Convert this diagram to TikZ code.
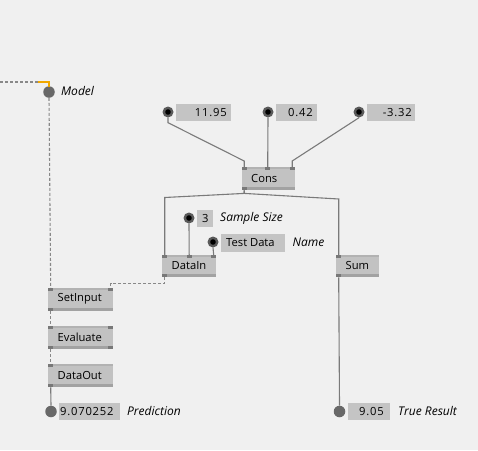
\documentclass[tikz,border=0pt]{standalone}
\usepackage{fontspec}
\setmainfont{Open Sans}
\newfontfamily\numfont[LetterSpace=7]{Open Sans}
\pgfdeclarelayer{back}
\pgfdeclarelayer{wires}
\pgfsetlayers{back,wires,main}

\definecolor{bg}{HTML}{F0F0F0}
\definecolor{boxfill}{HTML}{C2C2C2}
\definecolor{valfill}{HTML}{C4C4C4}
\definecolor{stripgray}{HTML}{A2A2A2}
\definecolor{topgray}{HTML}{B2B2B2}
\definecolor{pingray}{HTML}{787878}
\definecolor{wiregray}{HTML}{7A7A7A}
\definecolor{dashgray}{HTML}{888888}
\definecolor{ringgray}{HTML}{5A5A5A}
\definecolor{outgray}{HTML}{686868}
\definecolor{linkorange}{RGB}{242,168,0}

\tikzset{
  blk/.style={rectangle, fill=boxfill, inner sep=0pt, anchor=north west},
  valbox/.style={rectangle, fill=valfill, inner sep=0pt, anchor=north west},
  lbl/.style={font=\fontsize{11.2}{13}\selectfont, inner sep=0pt, anchor=west},
  tag/.style={font=\itshape\fontsize{12}{14}\selectfont, inner sep=0pt, anchor=west},
  num/.style={font=\numfont\fontsize{11.2}{13}\selectfont, inner sep=0pt},
  pinbar/.style={rectangle, fill=pingray, minimum width=5pt, minimum height=3pt, inner sep=0pt, anchor=north west},
  incirc/.style={circle, fill=ringgray, minimum size=11pt, inner sep=0pt},
  outcirc/.style={circle, fill=outgray, minimum size=11.5pt, inner sep=0pt},
  wire/.style={draw=wiregray, line width=1.1pt},
  dwire/.style={draw=dashgray, line width=1.1pt, dash pattern=on 3pt off 2pt},
  orangebar/.style={draw=linkorange, line width=2.5pt, line join=miter},
}

% operator block: name, x, y (top left), width, height, caption
\newcommand{\opblock}[6]{%
  \node[blk, minimum width=#4pt, minimum height=#5pt] (#1) at (#2,#3) {};
  \fill[topgray] (#1.north west) rectangle ([yshift=-1.5pt]#1.north east);
  \fill[stripgray] ([yshift=3pt]#1.south west) rectangle (#1.south east);
  \node[lbl] (#1-t) at ([xshift=9.5pt,yshift=0.5pt]#1.west) {#6};
}
% connection pin: name, x, y (top left)
\newcommand{\pinnode}[3]{\node[pinbar] (#1) at (#2,#3) {};}
% input dot with black centre
\newcommand{\indot}[3]{%
  \node[incirc] (#1) at (#2,#3) {};
  \fill[black] (#1.center) circle (2.8);
}

\begin{document}
\begin{tikzpicture}[x=1pt, y=-1pt]
\begin{pgfonlayer}{back}
  \fill[bg] (0,0) rectangle (478,450);
\end{pgfonlayer}
\useasboundingbox (0,0) rectangle (478,450);

% ---- constant inputs ----
\indot{c1}{168}{112}
\node[valbox, minimum width=55pt, minimum height=17pt] (v1) at (176,104) {};
\node[num, anchor=east] (v1t) at ([xshift=-4.5pt]v1.east) {11.95};

\indot{c2}{268}{112}
\node[valbox, minimum width=41pt, minimum height=17pt] (v2) at (276,104) {};
\node[num, anchor=east] (v2t) at ([xshift=-4.5pt]v2.east) {0.42};

\indot{c3}{359}{112}
\node[valbox, minimum width=48pt, minimum height=17pt] (v3) at (367,104) {};
\node[num, anchor=east] (v3t) at ([xshift=-3.5pt]v3.east) {-3.32};

% ---- Cons ----
\opblock{cons}{241.5}{167}{53.5}{23}{Cons}
\pinnode{cons-i1}{241.5}{167}
\pinnode{cons-i2}{265}{167}
\pinnode{cons-i3}{289.5}{167}
\pinnode{cons-o}{241.5}{187}

% ---- DataIn and its inputs ----
\indot{cs}{189}{218}
\node[valbox, minimum width=16pt, minimum height=17pt] (v4) at (197,210) {};
\node[num] (v4t) at (v4.center) {3};
\node[tag] (sst) at (220,218) {Sample Size};

\indot{ct}{213}{242}
\node[valbox, minimum width=64pt, minimum height=18.5pt] (v5) at (221,233.3) {};
\node[lbl] (v5t) at ([xshift=5pt]v5.west) {Test Data};
\node[tag] (nmt) at (292.5,242) {Name};

\opblock{datain}{162}{255}{54}{22}{DataIn}
\pinnode{datain-i1}{162}{255}
\pinnode{datain-i2}{186.5}{255}
\pinnode{datain-i3}{211}{255}
\pinnode{datain-o}{162}{274}

% ---- Sum ----
\opblock{sum}{336}{255}{43}{22}{Sum}
\pinnode{sum-i1}{336}{255}
\pinnode{sum-o}{336}{274}

% ---- model chain ----
\coordinate (feed) at (0,82);
\coordinate (corner) at (38,82);
\node[outcirc] (mc) at (49,92) {};
\node[tag] (mdt) at (61,91) {Model};

\opblock{setinput}{48}{288}{65}{23}{SetInput}
\pinnode{setinput-i1}{48}{288}
\pinnode{setinput-i2}{108}{288}
\pinnode{setinput-o}{48}{308}

\opblock{evaluate}{48}{326}{65}{23}{Evaluate}
\pinnode{evaluate-i1}{48}{326}
\pinnode{evaluate-i2}{108}{326}
\pinnode{evaluate-o1}{48}{346}
\pinnode{evaluate-o2}{108}{346}

\opblock{dataout}{48}{364}{65}{23}{DataOut}
\pinnode{dataout-i1}{48}{364}
\pinnode{dataout-o}{48}{384}

% ---- outputs ----
\node[outcirc] (pr) at (51,411.5) {};
\node[valbox, minimum width=61pt, minimum height=17pt] (v7) at (59,403) {};
\node[num, anchor=west] (v7t) at ([xshift=1pt]v7.west) {9.070252};
\node[tag] (prt) at (127,411) {Prediction};

\node[outcirc] (tr) at (339.5,411.5) {};
\node[valbox, minimum width=42pt, minimum height=17pt] (v6) at (348,403) {};
\node[num, anchor=east] (v6t) at ([xshift=-6.5pt]v6.east) {9.05};
\node[tag] (trt) at (398,411) {True Result};

% ---- connections ----
\begin{pgfonlayer}{wires}
  \draw[wire] (c1.south) -- ++(0,5) -- ([yshift=6pt]cons-i1.north) -- (cons-i1.north);
  \draw[wire] (c2.south) -- (cons-i2.north);
  \draw[wire] (c3.south) -- ([yshift=6pt]cons-i3.north) -- (cons-i3.north);
  \draw[wire] (cons-o.south) -- ++(0,3) -- ([yshift=57.5pt]datain-i1.north) -- (datain-i1.north);
  \draw[wire] (cons-o.south) -- ++(0,3) -- ([yshift=56pt]sum-i1.north) -- (sum-i1.north);
  \draw[wire] (cs.south) -- (datain-i2.north);
  \draw[wire] (ct.south) -- (datain-i3.north);
  \draw[wire] (sum-o.south) -- (tr.north);
  \draw[wire] (dataout-o.south) -- (pr.north);

  \draw[dwire] (feed) -- (corner);
  \draw[dwire] (mc.south) -- (setinput-i1.north);
  \draw[dwire] (datain-o.south) -- ++(0,6.5) -| (setinput-i2.north);
  \draw[dwire] (setinput-o.south) -- (evaluate-i1.north);
  \draw[dwire] (evaluate-o1.south) -- (dataout-i1.north);
\end{pgfonlayer}
\draw[orangebar] (corner) -- ++(11,0) -- ++(0,4.5);
\end{tikzpicture}
\end{document}
